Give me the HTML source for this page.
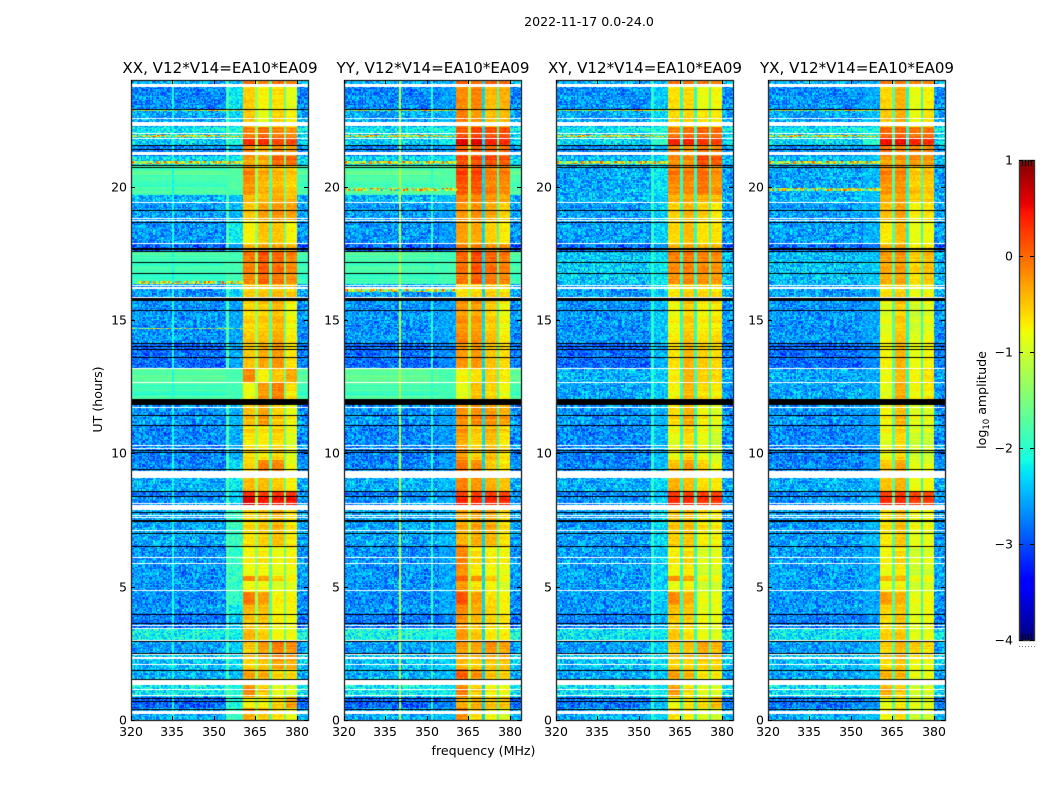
<!DOCTYPE html>
<html>
<head>
<meta charset="utf-8">
<title>2022-11-17 0.0-24.0</title>
<style>
html,body{margin:0;padding:0;background:#fff;}
#chart-root{position:relative;width:1050px;height:800px;overflow:hidden;background:#fff;}
canvas{position:absolute;display:block;}
svg{position:absolute;left:0;top:0;}
text{font-family:"DejaVu Sans","Liberation Sans",sans-serif;fill:#000;}
</style>
</head>
<body>
<div id="chart-root">
<svg id="overlay" width="1050" height="800" xmlns="http://www.w3.org/2000/svg">
<text x="589" y="26" text-anchor="middle" font-size="12.6">2022-11-17 0.0-24.0</text>
<text x="483.5" y="755" text-anchor="middle" font-size="12.6">frequency (MHz)</text>
<text transform="translate(102,399.5) rotate(-90)" text-anchor="middle" font-size="12.6">UT (hours)</text>
<text transform="translate(986,400) rotate(-90)" text-anchor="middle" font-size="12.6">log<tspan font-size="8.5" dy="3">10</tspan><tspan dy="-3"> amplitude</tspan></text>
</svg>
</div>
<script>
// ---------- Axis data ----------
var panelNames = ['XX', 'YY', 'XY', 'YX'];
var panelTitles = ['XX, V12*V14=EA10*EA09', 'YY, V12*V14=EA10*EA09', 'XY, V12*V14=EA10*EA09', 'YX, V12*V14=EA10*EA09'];
var freqTicks = [320, 335, 350, 365, 380];
var hourTicks = [0, 5, 10, 15, 20];
var colorbarTicks = [1, 0, -1, -2, -3, -4];

// ---------- Time segments (UT hours, top to bottom); each level array has one value per segment ----------
var segmentEnds = [23.74,22.92,22.27,22.0,21.81,21.55,21.17,20.8,19.9,19.68,19.41,18.7,17.84,17.57,16.33,15.81,14.14,13.18,12.65,11.83,11.04,9.76,9.09,8.6,8.37,7.89,6.53,5.41,5.18,4.81,4.28,3.98,3.38,2.97,2.52,1.88,1.31,0.86,0.45,0];

var xxBackground = [-2.5,-2.7,-2.55,-2.2,-2.35,-2.35,-2.7,-2.3,-1.75,-1.8,-2.5,-2.6,-2.65,-2.9,-1.85,-2.65,-2.65,-2.85,-1.8,-1.85,-2.65,-2.7,-2.7,-2.5,-2.75,-2.6,-2.55,-2.65,-2.65,-2.65,-2.7,-2.6,-2.8,-2.15,-2.6,-2.4,-2.5,-2.2,-2.9,-2.5];
var xxShoulder = [-2.4,-2.25,-2.35,-2.1,-2.2,-2.1,-2.5,-2.2,-1.75,-1.8,-2.45,-2.45,-2.2,-2.55,-1.85,-2.3,-2.55,-2.55,-1.8,-1.85,-2.45,-2.5,-2.3,-2.2,-2.4,-2.4,-1.95,-1.95,-1.95,-1.95,-1.95,-2.2,-2.4,-2.15,-2.4,-2.3,-2.45,-2.05,-2.05,-1.95];
var xxBandA = [-.1,-.6,-.55,-.1,-.05,.35,-.1,-.3,-.15,-.2,-.4,-.55,-.8,-.5,-.1,-.5,-.55,-.55,-.2,-.8,-.45,-.6,-.6,-.5,.3,.55,-.6,-.75,-.15,-.75,-.15,-.45,-.55,-.45,-.5,-.5,-.3,-.15,-.7,-.3];
var xxBandB = [-.2,-.8,-.9,0,.05,.35,-.3,-.35,-.35,-.4,-.4,-.35,-.55,-.4,.1,-.45,-.5,-.4,-.8,-.25,-.25,-.65,-.15,-.5,.2,.4,-.5,-.7,-.3,-.75,-.35,-.5,-.55,-.6,-.25,-.4,-.35,-.5,-.7,-.45];
var xxBandC = [-.1,-.7,-.6,-.1,0,.2,-.1,0,-.4,-.4,-.3,-.3,-.55,-.4,0,-.4,-.4,-.3,-.55,-.1,-.5,-.55,-.2,-.6,.25,.4,-.4,-.8,-.55,-.9,-.8,-.8,-.8,-.85,-.1,-.2,-.6,-.8,-.5,-.6];
var xxBandD = [-.2,-.95,-.8,-.2,-.1,.2,-.2,0,-.5,-.5,-.4,-.35,-.8,-.5,-.15,-.5,-.75,-.7,-.4,-.65,-.75,-.85,-.85,-.8,.25,.4,-.65,-.75,-.75,-.85,-.8,-.8,-.85,-.85,-.2,-.3,-.6,-.9,-.2,-.8];

var yyBackground = [-2.5,-2.7,-2.55,-2.2,-2.35,-2.35,-2.7,-2.3,-1.7,-1.75,-2.5,-2.6,-2.65,-2.9,-1.8,-2.65,-2.65,-2.85,-1.75,-1.8,-2.65,-2.7,-2.7,-2.5,-2.75,-2.6,-2.55,-2.65,-2.65,-2.65,-2.7,-2.6,-2.8,-2.1,-2.6,-2.4,-2.5,-2.2,-2.9,-2.5];
var yyShoulder = [-2.45,-2.6,-2.5,-2.15,-2.3,-2.2,-2.6,-2.25,-1.75,-1.8,-2.45,-2.55,-2.6,-2.8,-1.85,-2.55,-2.55,-2.7,-1.8,-1.85,-2.55,-2.6,-2.6,-2.45,-2.65,-2.55,-2.5,-2.55,-2.55,-2.55,-2.55,-2.5,-2.7,-2.1,-2.5,-2.35,-2.45,-2.2,-2.7,-2.45];
var yyBandA = [0,-.25,-.15,.1,.2,.6,.1,.15,.2,.1,-.1,-.3,-.35,-.2,0,-.6,-.2,-.3,-.8,-.85,-.2,-.25,-.1,-.2,.2,.35,-.35,-.15,.05,-.2,.05,-.2,-.3,-.3,-.25,-.35,.05,-.1,-.3,-.15];
var yyBandB = [-.1,-.2,-.3,.25,.25,.6,.1,.15,.2,.05,-.1,-.25,-.4,-.2,.15,-.55,-.25,-.3,-.7,-.45,-.15,-.5,-.2,-.3,.2,.3,-.3,-.6,-.2,-.6,-.35,-.4,-.5,-.55,-.3,-.45,-.2,-.5,-.3,-.55];
var yyBandC = [0,-.5,-.5,.2,.2,.4,.1,.15,-.1,-.1,-.2,-.4,-.6,-.3,0,-.5,-.5,-.55,-.6,-.55,-.2,-.4,-.55,-.45,.2,.3,-.35,-.7,-.5,-.7,-.7,-.6,-.65,-.75,-.2,-.4,-.5,-.7,-.4,-.75];
var yyBandD = [-.05,-.45,-.5,.2,.2,.35,.05,.1,-.1,-.2,-.3,-.6,-.75,-.3,-.1,-.6,-.75,-.65,-.75,-.8,-.3,-.6,-.7,-.55,.2,.3,-.6,-.75,-.8,-.9,-.8,-.8,-.7,-.75,-.3,-.4,-.55,-.8,-.4,-.9];

var xyBackground = [-2.5,-2.65,-2.55,-2.2,-2.35,-2.3,-2.65,-2.45,-2.55,-2.5,-2.5,-2.6,-2.6,-2.85,-2.4,-2.6,-2.65,-2.85,-2.5,-2.55,-2.65,-2.7,-2.7,-2.5,-2.7,-2.6,-2.6,-2.6,-2.6,-2.6,-2.65,-2.6,-2.75,-2.25,-2.6,-2.4,-2.55,-2.25,-2.8,-2.5];
var xyShoulder = [-2.4,-2.4,-2.35,-2.1,-2.1,-1.95,-2.5,-2.3,-2.25,-2.3,-2.4,-2.35,-2.35,-2.6,-2.25,-2.35,-2.4,-2.5,-2.35,-2.4,-2.45,-2.45,-2.45,-2.3,-2.5,-2.4,-2.35,-2.35,-2.35,-2.35,-2.35,-2.4,-2.5,-2.2,-2.4,-2.3,-2.4,-2.2,-2.4,-2.35];
var xyBandA = [-.1,-.7,-.65,-.1,0,.4,-.1,-.2,-.1,-.2,-.35,-.6,-.65,-.5,-.15,-.65,-.75,-.7,-.75,-.75,-.6,-.8,-.5,-.45,.25,.3,-.5,-.7,-.2,-.8,-.25,-.5,-.6,-.55,-.5,-.5,-.3,-.25,-.75,-.6];
var xyBandB = [-.1,-.65,-.6,0,.05,.4,-.2,-.2,-.1,-.2,-.3,-.45,-.5,-.4,-.1,-.5,-.5,-.45,-.45,-.4,-.35,-.55,-.3,-.5,.2,.3,-.45,-.6,-.3,-.7,-.45,-.55,-.6,-.7,-.45,-.5,-.4,-.6,-.6,-.65];
var xyBandC = [-.1,-.9,-.7,.1,.1,.3,0,.15,0,-.1,-.35,-.6,-.7,-.5,-.15,-.55,-.7,-.6,-.6,-.6,-.7,-.8,-.6,-.7,.2,.25,-.65,-.9,-.75,-.95,-.9,-.9,-.85,-.9,-.3,-.45,-.7,-.85,-.55,-.9];
var xyBandD = [-.2,-.85,-.75,.05,.05,.25,-.1,.1,-.2,-.2,-.4,-.75,-.7,-.5,-.2,-.6,-.65,-.65,-.65,-.7,-.85,-.95,-.85,-.75,.2,.25,-.7,-.85,-.8,-.95,-.9,-.9,-.9,-.95,-.4,-.5,-.7,-.9,-.35,-.95];

var yxBackground = [-2.5,-2.65,-2.55,-2.2,-2.35,-2.3,-2.65,-2.45,-2.55,-2.5,-2.5,-2.6,-2.6,-2.85,-2.45,-2.6,-2.65,-2.85,-2.55,-2.55,-2.65,-2.7,-2.7,-2.5,-2.7,-2.6,-2.6,-2.6,-2.6,-2.6,-2.65,-2.6,-2.75,-2.25,-2.6,-2.4,-2.55,-2.25,-2.8,-2.5];
var yxShoulder = [-2.45,-2.55,-2.45,-2.15,-2.2,-2.0,-2.55,-2.4,-2.45,-2.45,-2.45,-2.5,-2.5,-2.75,-2.4,-2.5,-2.55,-2.7,-2.5,-2.5,-2.55,-2.6,-2.6,-2.45,-2.6,-2.5,-2.5,-2.5,-2.5,-2.5,-2.55,-2.5,-2.65,-2.2,-2.5,-2.35,-2.45,-2.2,-2.65,-2.45];
var yxBandA = [-.15,-.65,-.55,.05,.1,.5,0,-.3,-.15,-.2,-.35,-.5,-.75,-.5,-.3,-.6,-.85,-.8,-.85,-.85,-.75,-.8,-.55,-.55,.2,.3,-.65,-.75,-.4,-.75,-.35,-.6,-.7,-.6,-.55,-.55,-.4,-.35,-.8,-.75];
var yxBandB = [-.15,-.45,-.4,.05,.1,.5,-.1,-.25,-.15,-.25,-.25,-.35,-.5,-.4,-.25,-.5,-.5,-.45,-.5,-.35,-.4,-.55,-.35,-.45,.2,.3,-.45,-.6,-.4,-.7,-.45,-.55,-.55,-.55,-.4,-.4,-.4,-.5,-.65,-.55];
var yxBandC = [-.2,-.9,-.85,0,.05,.4,-.1,-.25,-.5,-.45,-.5,-.8,-.9,-.8,-.55,-.8,-.95,-.9,-.8,-.75,-.85,-.95,-.9,-.9,.15,.2,-.8,-.95,-.8,-.95,-.9,-.9,-.95,-.95,-.5,-.7,-.85,-.95,-.8,-1.0];
var yxBandD = [-.2,-.8,-.7,0,.05,.35,-.1,-.25,-.45,-.5,-.5,-.7,-.85,-.75,-.45,-.75,-.85,-.8,-.7,-.7,-.85,-.95,-.9,-.85,.15,.2,-.8,-.9,-.8,-.9,-.85,-.85,-.85,-.9,-.6,-.75,-.85,-.9,-.8,-.95];

// Narrow notches between the sub-bands, per polarisation
var xxNotches = [-1.3, -1.7, -1.6];
var yyNotches = [-1.25, -2.3, -1.8];
var xyNotches = [-2.0, -2.0, -1.8];
var yxNotches = [-1.75, -2.1, -1.9];

// Persistent single-channel lines: MHz and level
var xxLineFreqs = [335.2, 355.0];
var xxLineLevels = [-2.1, -1.8];
var yyLineFreqs = [340.2, 351.8];
var yyLineLevels = [-1.1, -2.0];
var xyLineFreqs = [355.0];
var xyLineLevels = [-2.0];
var yxLineFreqs = [];
var yxLineLevels = [];

// Bright interference rows (UT hours)
var xxRfiHours = [22.88, 21.9, 20.9, 16.4, 14.68];
var yyRfiHours = [22.88, 21.9, 20.9, 19.9, 16.1];
var xyRfiHours = [22.88, 21.9, 20.9];
var yxRfiHours = [22.88, 21.9, 20.9, 19.9];

// Rows flagged in every panel: [start hour, end hour]
var whiteFlags = [[23.86,23.74],[22.59,22.53],[22.43,22.27],[22.02,21.99],[21.81,21.79],[21.30,21.17],[19.42,19.39],[18.84,18.82],[18.75,18.72],[17.88,17.86],[16.33,16.31],[16.22,16.17],[15.88,15.85],[13.2,13.16],[12.67,12.63],[11.73,11.71],[10.3,10.27],[10.19,10.17],[9.35,9.09],[8.12,8.1],[8.07,7.89],[7.7,7.68],[7.6,7.57],[7.14,7.11],[6.12,6.1],[5.89,5.87],[4.88,4.86],[3.58,3.55],[3.46,3.41],[3.01,2.99],[2.46,2.44],[2.38,2.36],[2.31,2.29],[2.09,2.07],[1.52,1.33],[1.16,1.14],[0.92,0.9],[0.34,0.24]];
var blackFlags = [[22.93,22.91],[21.58,21.56],[21.43,21.41],[20.83,20.81],[20.72,20.7],[19.13,19.09],[18.68,18.64],[17.71,17.63],[17.58,17.56],[17.19,17.17],[16.77,16.75],[15.81,15.72],[15.39,15.37],[14.15,14.13],[14.04,14.02],[13.92,13.9],[13.61,13.59],[12.04,11.83],[11.44,11.42],[11.07,11.05],[10.14,10.12],[10.04,10.02],[9.4,9.38],[8.58,8.56],[8.41,8.39],[7.79,7.75],[7.5,7.44],[7.0,6.96],[6.54,6.5],[3.98,3.96],[3.63,3.61],[2.96,2.94],[2.51,2.49],[1.88,1.86],[1.53,1.51],[0.81,0.79],[0.73,0.71],[0.43,0.41]];

// Hand-written speckle table: signal-independent cell-to-cell texture
var speckle = [.3,-.8,.1,.6,-.4,-.9,.5,.2,-.2,.9,-.6,.4,-.1,-.7,.8,.05,-.35,.65,-.95,.25,.45,-.55,.15,-.75,.7,-.15,.35,-.45,1,-.25,-.65,.55,.1,-.85,.4,-.05,.75,-.5,.2,-1,.6,-.3,.85,-.1,-.6,.3,.5,-.7,.15,-.4,.95,-.2,.05,-.8,.45,.7,-.55,.25,-.9,.35,-.15,.8,-.45,.1,-.65,.55,-.25,.9,-.75,.4,-.05,.2,-.5,.65,-.95,.3,-.35,.75,.15,-.6,.5,-.1,-.85,.6,.25,-.7,.85,-.3,.05,-.45,.4,-.2,.7,-.8,.1,.5,-.55];

// ---------- Geometry ----------
var panelLefts = [131, 344, 556, 768];
var panelTop = 80;
var panelBottom = 720;
var panelWidth = 177;
var freqMin = 320;
var freqMax = 384;
var hourMin = 0;
var hourMax = 24;
var channelCount = 128;
var rowCount = 480;
var cbLeft = 1019;
var cbRight = 1034;
var cbTop = 160;
var cbBottom = 640;
var levelMin = -4;
var levelMax = 1;
var SVGNS = 'http://www.w3.org/2000/svg';
var root = document.getElementById('chart-root');
var overlay = document.getElementById('overlay');

function xScale(freq, left) { return left + (freq - freqMin) / (freqMax - freqMin) * panelWidth; }
function yScale(hour) { return panelBottom - (hour - hourMin) / (hourMax - hourMin) * (panelBottom - panelTop); }
function cbScale(level) { return cbBottom - (level - levelMin) / (levelMax - levelMin) * (cbBottom - cbTop); }

function ramp(t, pts) {
  if (t <= pts[0][0]) return pts[0][1];
  for (var i = 1; i < pts.length; i++) {
    if (t <= pts[i][0]) {
      var a = pts[i - 1], b = pts[i];
      return a[1] + (b[1] - a[1]) * (t - a[0]) / (b[0] - a[0]);
    }
  }
  return pts[pts.length - 1][1];
}
var jetR = [[0,0],[.35,0],[.66,1],[.89,1],[1,.5]];
var jetG = [[0,0],[.125,0],[.375,1],[.64,1],[.91,0],[1,0]];
var jetB = [[0,.5],[.11,1],[.34,1],[.65,0],[1,0]];
function levelColor(level) {
  var t = Math.max(0, Math.min(1, (level - levelMin) / (levelMax - levelMin)));
  return 'rgb(' + Math.round(255 * ramp(t, jetR)) + ',' + Math.round(255 * ramp(t, jetG)) + ',' + Math.round(255 * ramp(t, jetB)) + ')';
}

function segmentIndex(hour) {
  for (var i = 0; i < segmentEnds.length; i++) { if (hour >= segmentEnds[i]) return i; }
  return segmentEnds.length - 1;
}
function texture(c, r) { return speckle[(c * 73 + r * 151 + ((c * r) % 13) * 29 + (c * c * r) % 89) % speckle.length]; }
function rowTexture(r) { return speckle[(r * r * 7 + r * 3) % speckle.length]; }

var panelData = [
  {bg: xxBackground, sh: xxShoulder, a: xxBandA, b: xxBandB, c: xxBandC, d: xxBandD, n: xxNotches, lf: xxLineFreqs, ll: xxLineLevels, rfi: xxRfiHours},
  {bg: yyBackground, sh: yyShoulder, a: yyBandA, b: yyBandB, c: yyBandC, d: yyBandD, n: yyNotches, lf: yyLineFreqs, ll: yyLineLevels, rfi: yyRfiHours},
  {bg: xyBackground, sh: xyShoulder, a: xyBandA, b: xyBandB, c: xyBandC, d: xyBandD, n: xyNotches, lf: xyLineFreqs, ll: xyLineLevels, rfi: xyRfiHours},
  {bg: yxBackground, sh: yxShoulder, a: yxBandA, b: yxBandB, c: yxBandC, d: yxBandD, n: yxNotches, lf: yxLineFreqs, ll: yxLineLevels, rfi: yxRfiHours}
];

function cellLevel(p, freq, hour, c, r) {
  var s = segmentIndex(hour);
  var tex = texture(c, r);
  var rowTex = rowTexture(r);
  var i;
  for (i = 0; i < p.rfi.length; i++) {
    if (Math.abs(hour - p.rfi[i]) < 0.03 && freq < 361) return -1.1 + 1.35 * tex;
  }
  if (freq >= 360.3 && freq < 380.2) {
    if (freq >= 365 && freq < 365.8) return p.n[0] + 0.12 * tex;
    if (freq >= 370.2 && freq < 371) return p.n[1] + 0.12 * tex;
    if (freq >= 375.3 && freq < 376) return p.n[2] + 0.12 * tex;
    var band = freq < 365 ? p.a : freq < 370.2 ? p.b : freq < 375.3 ? p.c : p.d;
    return band[s] + 0.12 * tex + 0.14 * rowTex;
  }
  for (i = 0; i < p.lf.length; i++) {
    if (Math.abs(freq - p.lf[i]) < 0.26) return p.ll[i] + 0.12 * tex;
  }
  if (freq >= 354.5 && freq < 360.3) {
    return p.sh[s] + (p.sh[s] > -1.9 ? 0.12 : 0.32) * tex;
  }
  var bg = p.bg[s];
  if (bg > -1.95) return bg + 0.08 * tex + 0.2 * rowTex;
  return bg + 0.5 * tex;
}

function drawPanel(index) {
  var p = panelData[index];
  var left = panelLefts[index];
  var cv = document.createElement('canvas');
  
  
  cv.width = panelWidth;
  cv.height = panelBottom - panelTop;
  cv.style.left = left + 'px';
  cv.style.top = panelTop + 'px';
  root.insertBefore(cv, overlay);
  var g = cv.getContext('2d');
  var fStep = (freqMax - freqMin) / channelCount;
  var hStep = (hourMax - hourMin) / rowCount;
  for (var r = 0; r < rowCount; r++) {
    var hour = hourMin + (r + 0.5) * hStep;
    var y0 = Math.round(yScale(hourMin + (r + 1) * hStep)) - panelTop;
    var y1 = Math.round(yScale(hourMin + r * hStep)) - panelTop;
    for (var c = 0; c < channelCount; c++) {
      var freq = freqMin + (c + 0.5) * fStep;
      var x0 = Math.round(xScale(freqMin + c * fStep, 0));
      var x1 = Math.round(xScale(freqMin + (c + 1) * fStep, 0));
      g.fillStyle = levelColor(cellLevel(p, freq, hour, c, r));
      g.fillRect(x0, y0, x1 - x0, y1 - y0);
    }
  }
  function flag(list, color) {
    g.fillStyle = color;
    for (var i = 0; i < list.length; i++) {
      var top = Math.round(yScale(list[i][0])) - panelTop;
      var bot = Math.round(yScale(list[i][1])) - panelTop;
      g.fillRect(0, top, panelWidth, Math.max(1, bot - top));
    }
  }
  flag(whiteFlags, '#fff');
  flag(blackFlags, '#000');
}

function addLine(x1, y1, x2, y2, name, color) {
  var l = document.createElementNS(SVGNS, 'line');
  
  
  l.setAttribute('x1', x1);
  l.setAttribute('y1', y1);
  l.setAttribute('x2', x2);
  l.setAttribute('y2', y2);
  l.setAttribute('stroke', color || '#000');
  l.setAttribute('stroke-width', 1);
  overlay.appendChild(l);
}
function addText(x, y, str, anchor, size, name) {
  var t = document.createElementNS(SVGNS, 'text');
  
  
  t.setAttribute('x', x);
  t.setAttribute('y', y);
  t.setAttribute('text-anchor', anchor);
  t.setAttribute('font-size', size);
  t.textContent = str;
  overlay.appendChild(t);
}

function drawAxes(index) {
  var left = panelLefts[index];
  var key = panelNames[index].toLowerCase();
  var frame = document.createElementNS(SVGNS, 'rect');
  
  
  frame.setAttribute('x', left + 0.5);
  frame.setAttribute('y', panelTop + 0.5);
  frame.setAttribute('width', panelWidth);
  frame.setAttribute('height', panelBottom - panelTop);
  frame.setAttribute('fill', 'none');
  frame.setAttribute('stroke', '#333');
  frame.setAttribute('stroke-width', 1.4);
  overlay.appendChild(frame);
  var i;
  for (i = 0; i < freqTicks.length; i++) {
    var x = Math.round(xScale(freqTicks[i], left)) + 0.5;
    addLine(x, panelBottom, x, panelBottom - 4, 'x-tick-bottom');
    addLine(x, panelTop, x, panelTop + 4, 'x-tick-top');
    addText(x - 0.5, 736, String(freqTicks[i]), 'middle', 12.5, 'x-tick-label');
  }
  for (i = 0; i < hourTicks.length; i++) {
    var y = Math.round(yScale(hourTicks[i])) + 0.5;
    addLine(left, y, left + 4, y, 'y-tick-left');
    addLine(left + panelWidth, y, left + panelWidth - 4, y, 'y-tick-right');
    addText(left - 4, y + 4.2, String(hourTicks[i]), 'end', 12.5, 'y-tick-label');
  }
  addText(left + panelWidth / 2 + 0.5, 73, panelTitles[index], 'middle', 15.1, 'panel-title-' + key);
}

function drawColorbar() {
  var cv = document.createElement('canvas');
  
  
  cv.width = cbRight - cbLeft;
  cv.height = cbBottom - cbTop;
  cv.style.left = cbLeft + 'px';
  cv.style.top = cbTop + 'px';
  root.insertBefore(cv, overlay);
  var g = cv.getContext('2d');
  for (var y = 0; y < cv.height; y++) {
    g.fillStyle = levelColor(levelMax - (y + 0.5) / cv.height * (levelMax - levelMin));
    g.fillRect(0, y, cv.width, 1);
  }
  var frame = document.createElementNS(SVGNS, 'rect');
  
  
  frame.setAttribute('x', cbLeft + 0.5);
  frame.setAttribute('y', cbTop + 0.5);
  frame.setAttribute('width', cbRight - cbLeft);
  frame.setAttribute('height', cbBottom - cbTop);
  frame.setAttribute('fill', 'none');
  frame.setAttribute('stroke', '#333');
  frame.setAttribute('stroke-width', 1.4);
  overlay.appendChild(frame);
  var i;
  for (i = 0; i < colorbarTicks.length; i++) {
    var v = colorbarTicks[i];
    var ty = Math.round(cbScale(v)) + 0.5;
    addLine(cbLeft, ty, cbLeft + 4, ty, 'colorbar-tick-left');
    addLine(cbRight, ty, cbRight - 4, ty, 'colorbar-tick-right');
    addText(1013, ty + 4.2, v < 0 ? '\u2212' + Math.abs(v) : String(v), 'end', 12.5, 'colorbar-tick-label');
  }
  for (i = 1; i < 5; i++) {
    var mx = cbLeft + i * (cbRight - cbLeft) / 5;
    mx = Math.round(mx) + 0.5;
    addLine(mx, cbTop, mx, cbTop + 6, 'colorbar-minor-tick-top');
    addLine(mx, cbBottom, mx, cbBottom - 6, 'colorbar-minor-tick-bottom');
  }
  for (i = 0; i < 6; i++) {
    var dx = cbLeft + i * 3;
    addLine(dx, 646.5, dx + 1, 646.5, 'colorbar-dot', '#777');
  }
}

for (var pi = 0; pi < panelNames.length; pi++) {
  drawPanel(pi);
  drawAxes(pi);
}
drawColorbar();
</script>
</body>
</html>
